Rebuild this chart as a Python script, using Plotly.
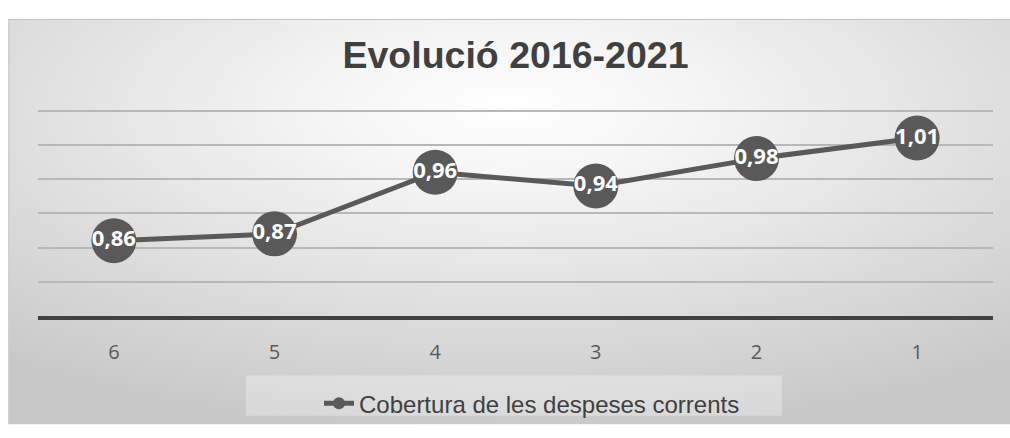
import base64
import plotly.graph_objects as go

# ---- data ----
categories = ["6", "5", "4", "3", "2", "1"]
values = [0.86, 0.87, 0.96, 0.94, 0.98, 1.01]
labels = ["0,86", "0,87", "0,96", "0,94", "0,98", "1,01"]
series_name = "Cobertura de les despeses corrents"
title_text = "Evolució 2016-2021"

W, H = 1010, 438
Y0, Y1 = 0.7499, 1.0525
ML, MR, MB = 38, 17, 113
MT = 109.2
pw, ph = W - ML - MR, H - MT - MB

# background gradient frame (pixels)
fx0, fy0, fx1, fy1 = 8, 15, 1010, 438
fw, fh = fx1 - fx0, fy1 - fy0
svg = f'''<svg xmlns="http://www.w3.org/2000/svg" width="{fw}" height="{fh}" viewBox="0 0 {fw} {fh}" preserveAspectRatio="none">
<defs><radialGradient id="g" cx="0.5" cy="0.22" r="0.8">
<stop offset="0" stop-color="#ffffff"/>
<stop offset="0.25" stop-color="#f4f4f4"/>
<stop offset="1" stop-color="#c8c8c8"/>
</radialGradient></defs>
<rect x="0" y="0" width="{fw}" height="{fh}" fill="url(#g)"/>
<line x1="0" y1="0.75" x2="{fw}" y2="0.75" stroke="#c4c4c4" stroke-width="1.5"/>
<line x1="0.75" y1="0" x2="0.75" y2="{fh}" stroke="#d0d0d0" stroke-width="1.5"/>
</svg>'''
src = "data:image/svg+xml;base64," + base64.b64encode(svg.encode()).decode()

def px2x(px):
    return (px - ML) / pw

def py2y(py):
    return (H - MB - py) / ph

fig = go.Figure()
fig.add_trace(go.Scatter(
    x=categories, y=values, text=labels,
    mode="lines+markers+text",
    line=dict(color="#595959", width=5),
    marker=dict(size=45, color="#595959"),
    textposition="middle center",
    textfont=dict(family="Open Sans", size=22, color="white", weight="bold"),
    cliponaxis=False, showlegend=False, hoverinfo="skip",
))
fig.add_trace(go.Scatter(
    x=[None], y=[None], name=series_name,
    mode="lines+markers",
    line=dict(color="#595959", width=5),
    marker=dict(size=12, color="#595959"),
    showlegend=True,
))

fig.update_layout(
    width=W, height=H,
    margin=dict(l=ML, r=MR, t=MT, b=MB, pad=0),
    paper_bgcolor="white",
    plot_bgcolor="rgba(0,0,0,0)",
    title=dict(text=title_text, x=px2x(515.5), xref="paper", xanchor="center",
               y=1 - 55 / H, yref="container", yanchor="middle",
               font=dict(family="Liberation Sans", size=37.5, color="#404040", weight="bold")),
    xaxis=dict(type="category", categoryorder="array", categoryarray=categories,
               showgrid=False, showline=True, linecolor="#404040", linewidth=4,
               ticks="outside", ticklen=15, tickcolor="rgba(0,0,0,0)",
               tickfont=dict(family="Open Sans", size=20, color="#595959"),
               fixedrange=True),
    yaxis=dict(range=[Y0, Y1], tick0=0.75, dtick=0.05, showticklabels=False,
               showgrid=True, gridcolor="#b8b8b8", gridwidth=1.5, zeroline=False,
               showline=False, fixedrange=True),
    legend=dict(orientation="h", x=px2x(319), xanchor="left", y=py2y(393), yanchor="top",
                bgcolor="rgba(0,0,0,0)", borderwidth=0,
                font=dict(family="Liberation Sans", size=24, color="#404040")),
    images=[dict(source=src, xref="paper", yref="paper",
                 x=px2x(fx0), y=py2y(fy0), sizex=fw / pw, sizey=fh / ph,
                 xanchor="left", yanchor="top", sizing="stretch", layer="below")],
    shapes=[dict(type="rect", xref="paper", yref="paper",
                 x0=px2x(246), x1=px2x(782), y0=py2y(429), y1=py2y(387),
                 fillcolor="rgba(255,255,255,0.3)", line=dict(width=0), layer="below")],
)

fig.write_html(
    "out.html",
    config={"displayModeBar": False},
    post_script="document.body.style.margin='0';document.body.style.overflow='hidden';",
)
